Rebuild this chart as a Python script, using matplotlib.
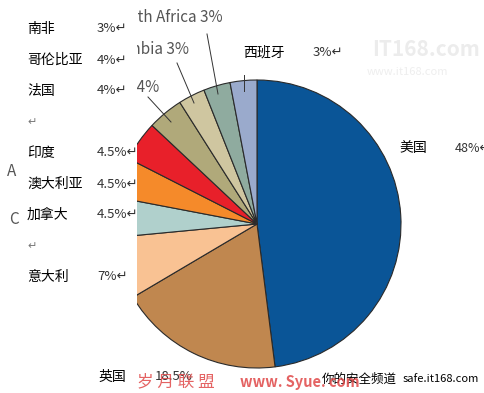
import matplotlib.pyplot as plt
from matplotlib.patches import Rectangle

plt.rcParams['font.family'] = ['Noto Sans CJK SC', 'DejaVu Sans']

# 各国占比（顺时针，从12点钟方向开始）
国家 = ['美国', '英国', '意大利', '加拿大', '澳大利亚', '印度', '法国', '哥伦比亚', '南非', '西班牙']
占比 = [48, 18.5, 7, 4.5, 4.5, 4.5, 4, 3, 3, 3]
颜色 = ['#0a5597', '#c0874f', '#f9c293', '#b0d0cc', '#f58a2a',
      '#e8202a', '#b0a97a', '#cfc6a0', '#8fab9f', '#9aaacc']

# 左侧文字框里的内容
左侧名称 = ['南非', '哥伦比亚', '法国', '', '印度', '澳大利亚', '加拿大', '', '意大利']
左侧数值 = ['3%', '4%', '4%', '', '4.5%', '4.5%', '4.5%', '', '7%']

H = 393
fig = plt.figure(figsize=(4.84, 3.93), dpi=100)
ax = fig.add_axes([0, 0, 1, 1])
ax.set_xlim(0, 484)
ax.set_ylim(0, H)
ax.set_aspect('equal')
ax.axis('off')

ax.pie(占比, colors=颜色, startangle=90, counterclock=False,
       center=(257, H - 224), radius=144,
       wedgeprops=dict(edgecolor='#2a2a2a', linewidth=0.8))
ax.set_xlim(0, 484)
ax.set_ylim(0, H)

# 原图表的引导线标签（被文字框遮住一半）
灰 = '#555555'
ax.text(223, H - 18, 'South Africa 3%', ha='right', va='center', fontsize=11, color=灰, zorder=2)
ax.text(189, H - 50, 'Colombia 3%', ha='right', va='center', fontsize=11, color=灰, zorder=2)
ax.text(159, H - 87, 'France 4%', ha='right', va='center', fontsize=11, color=灰, zorder=2)
ax.plot([207, 218], [H - 34, H - 94], color='#333333', lw=0.7, zorder=2)
ax.plot([177, 194], [H - 63, H - 103], color='#333333', lw=0.7, zorder=2)
ax.plot([148, 171], [H - 97, H - 122], color='#333333', lw=0.7, zorder=2)
ax.plot([244, 244], [H - 75, H - 91], color='#333333', lw=0.7, zorder=2)

# 白色文字框
ax.add_patch(Rectangle((0, 0), 137, H, facecolor='white', edgecolor='none', zorder=3))
ax.text(7, H - 172, 'A', fontsize=11, color=灰, va='center', zorder=4)
ax.text(9, H - 220, 'C', fontsize=11, color=灰, va='center', zorder=4)

for i, (名, 值) in enumerate(zip(左侧名称, 左侧数值)):
    y = H - (29 + i * 31)
    if 名:
        ax.text(27, y, 名, fontsize=10, va='center', zorder=4)
        ax.text(97, y, 值 + '↵', fontsize=9.5, va='center', color='#333333', zorder=4)
    else:
        ax.text(27, y, '↵', fontsize=8, va='center', color='#777777', zorder=4)

ax.text(243, H - 53, '西班牙', fontsize=10, va='center', zorder=4)
ax.text(313, H - 53, '3%↵', fontsize=9.5, va='center', color='#333333', zorder=4)
ax.text(399, H - 148, '美国', fontsize=10, va='center', zorder=4)
ax.text(455, H - 148, '48%↵', fontsize=9, va='center', color='#333333', zorder=4)
ax.text(98, H - 377, '英国', fontsize=10, va='center', zorder=4)
ax.text(155, H - 377, '18.5%', fontsize=9.5, va='center', color='#333333', zorder=4)
ax.text(322, H - 379, '你的安全频道', fontsize=9, va='center', zorder=4)
ax.text(403, H - 379, 'safe.it168.com', fontsize=8, va='center', zorder=4)

# 水印
ax.text(137, H - 382, '岁 月 联 盟', fontsize=12, va='center', color='#e04848', alpha=0.85, zorder=5)
ax.text(240, H - 382, 'www. Syue. com', fontsize=10.5, va='center', color='#e04848', alpha=0.85,
        fontweight='bold', zorder=5)
ax.text(372, H - 50, 'IT168.com', fontsize=15, va='center', color='#ececec', style='italic',
        fontweight='bold', zorder=1)
ax.text(367, H - 72, 'www.it168.com', fontsize=8, va='center', color='#eeeeee', zorder=1)

fig.savefig('out.png', dpi=100)
